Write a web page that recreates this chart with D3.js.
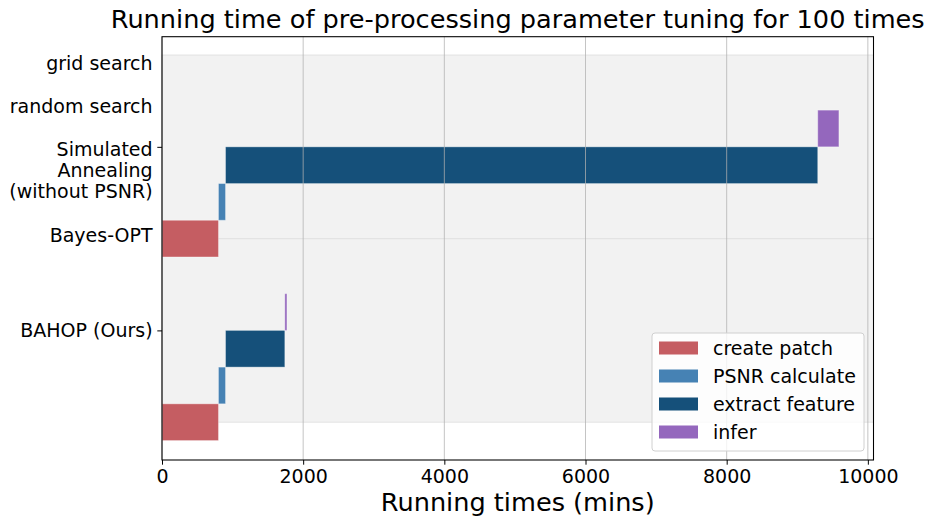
<!DOCTYPE html>
<html>
<head>
<meta charset="utf-8">
<script src="https://cdn.jsdelivr.net/npm/d3@7"></script>
<style>
  html, body { margin: 0; padding: 0; background: #fff; }
  svg { display: block; font-family: "DejaVu Sans", sans-serif; }
</style>
</head>
<body>
<svg id="chart" width="933" height="527"></svg>
<script>
// ---- data ----
const stages = ["create patch", "PSNR calculate", "extract feature", "infer"];
const stageColors = ["#c55d62", "#4682b4", "#15507a", "#9467bd"];
// BAHOP (Ours) pipeline (mins)
const bahopStart = [0, 800, 900, 1740];
const bahopDur = [800, 100, 840, 30];
// Simulated Annealing / Bayes-OPT pipeline (mins)
const saStart = [0, 800, 900, 9290];
const saDur = [800, 100, 8390, 300];
// vertical base row of each pipeline
const groupBase = [0, 5];
// background bands (y units)
const bands = [[0, 5], [5, 10]];
// y tick labels
const yTickPos = [2.5, 7.5];
const yTickLabels = [["BAHOP (Ours)"], ["Simulated", "Annealing", "(without PSNR)"]];
// extra method labels (no tick mark)
const extraLabels = ["grid search", "random search", "Bayes-OPT"];
const extraLabelPos = [9.78, 8.61, 5.1];
// x ticks
const xTicks = [0, 2000, 4000, 6000, 8000, 10000];
const xMax = 10080;
const yDomain = [-1.03, 10.5];

const title = "Running time of pre-processing parameter tuning for 100 times";
const xLabel = "Running times (mins)";

// ---- layout ----
const svg = d3.select("#chart");
const L = 162, R = 873.5, T = 36.7, B = 460;
const x = d3.scaleLinear().domain([0, xMax]).range([L, R]);
const y = d3.scaleLinear().domain(yDomain).range([B, T]);
const fs = 19;

// bands
svg.append("g").selectAll("rect").data(bands).join("rect")
  .attr("x", L).attr("width", R - L)
  .attr("y", d => y(d[1])).attr("height", d => y(d[0]) - y(d[1]))
  .attr("fill", "#f2f2f2").attr("stroke", "#e2e2e2").attr("stroke-width", 1);

// bars
const bars = [];
[[bahopStart, bahopDur], [saStart, saDur]].forEach((g, gi) => {
  g[0].forEach((s, i) => bars.push({ start: s, dur: g[1][i], row: groupBase[gi] + i, c: stageColors[i] }));
});
svg.append("g").selectAll("rect").data(bars).join("rect")
  .attr("x", d => x(d.start)).attr("width", d => x(d.start + d.dur) - x(d.start))
  .attr("y", d => y(d.row + 0.5)).attr("height", d => y(d.row - 0.5) - y(d.row + 0.5))
  .attr("fill", d => d.c).attr("stroke", "#ffffff").attr("stroke-opacity", 0.35).attr("stroke-width", 1);

// vertical gridlines (on top)
svg.append("g").selectAll("line").data(xTicks).join("line")
  .attr("x1", d => x(d)).attr("x2", d => x(d)).attr("y1", T).attr("y2", B)
  .attr("stroke", "#b0b0b0").attr("stroke-opacity", 0.75).attr("stroke-width", 1);

// x axis
const xAxis = d3.axisBottom(x).tickValues(xTicks).tickFormat(d3.format("d")).tickSize(4.7).tickPadding(5);
const gx = svg.append("g").attr("transform", `translate(0,${B})`).call(xAxis);
gx.select(".domain").remove();
gx.selectAll("line").attr("stroke", "#000").attr("stroke-width", 1);
gx.selectAll("text").attr("font-size", fs).attr("fill", "#000").attr("font-family", "DejaVu Sans");

// y axis ticks
const yAxis = d3.axisLeft(y).tickValues(yTickPos).tickFormat("").tickSize(4.7);
const gy = svg.append("g").attr("transform", `translate(${L},0)`).call(yAxis);
gy.select(".domain").remove();
gy.selectAll("line").attr("stroke", "#000").attr("stroke-width", 1);

// y tick labels (multi-line)
const lblX = L - 9.4;
yTickLabels.forEach((lines, i) => {
  const t = svg.append("text").attr("text-anchor", "end").attr("font-size", fs).attr("fill", "#000");
  lines.forEach((ln, j) => {
    t.append("tspan").attr("x", lblX).attr("y", y(yTickPos[i]) + 0.36 * fs + (i === 1 ? 2 : 0) + j * 21.3).text(ln);
  });
});
svg.append("g").selectAll("text").data(extraLabels).join("text")
  .attr("x", lblX).attr("y", (d, i) => y(extraLabelPos[i]) + 0.36 * fs)
  .attr("text-anchor", "end").attr("font-size", fs).attr("fill", "#000").text(d => d);

// spines
svg.append("rect").attr("x", L).attr("y", T).attr("width", R - L).attr("height", B - T)
  .attr("fill", "none").attr("stroke", "#000").attr("stroke-width", 1.07);

// title & label
svg.append("text").attr("x", (L + R) / 2).attr("y", 28).attr("text-anchor", "middle")
  .attr("font-size", 25.6).attr("fill", "#000").text(title);
svg.append("text").attr("x", (L + R) / 2).attr("y", 511).attr("text-anchor", "middle")
  .attr("font-size", 25.6).attr("fill", "#000").text(xLabel);

// legend
const lg = svg.append("g");
lg.append("rect").attr("x", 652).attr("y", 333).attr("width", 212).attr("height", 118)
  .attr("rx", 3).attr("fill", "#fff").attr("fill-opacity", 0.8).attr("stroke", "#d0d0d0").attr("stroke-width", 1);
stages.forEach((s, i) => {
  const cy = 348 + i * 28;
  lg.append("rect").attr("x", 659).attr("y", cy - 6.5).attr("width", 39).attr("height", 13)
    .attr("fill", stageColors[i]);
  lg.append("text").attr("x", 713).attr("y", cy + 0.36 * fs).attr("font-size", fs).attr("fill", "#000").text(s);
});
</script>
</body>
</html>
